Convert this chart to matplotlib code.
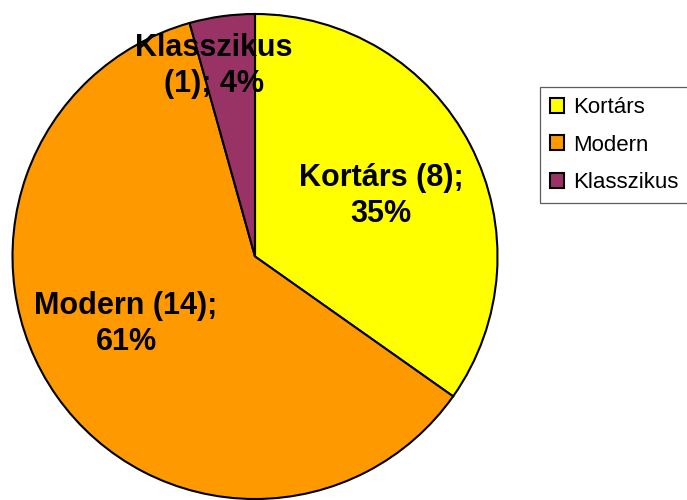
import matplotlib.pyplot as plt
from matplotlib.patches import Patch

# adatok
categories = ['Kortárs', 'Modern', 'Klasszikus']
counts = [8, 14, 1]
colors = ['#FFFF00', '#FF9900', '#993366']

total = sum(counts)
pcts = [round(c / total * 100) for c in counts]

fig = plt.figure(figsize=(6.87, 5.0), dpi=100)
ax = fig.add_axes([0, 0, 1, 1])

cx, cy, r = 255, 500 - 256.5, 242.5
wedges, _ = ax.pie(counts, colors=colors, startangle=90, counterclock=False,
                   center=(cx, cy), radius=r,
                   wedgeprops=dict(edgecolor='black', linewidth=1.5))
ax.set_xlim(0, 687)
ax.set_ylim(0, 500)
ax.set_aspect('equal')
ax.axis('off')

# címkék helye (pixel)
label_pos = [(381, 500 - 196), (126, 500 - 324), (214, 500 - 66)]
label_text = [f'Kortárs ({counts[0]});\n{pcts[0]}%',
              f'Modern ({counts[1]});\n{pcts[1]}%',
              f'Klasszikus\n({counts[2]}); {pcts[2]}%']
for (x, y), t in zip(label_pos, label_text):
    ax.text(x, y, t, ha='center', va='center', fontsize=22, fontweight='bold',
            family='Liberation Sans', linespacing=1.3)

handles = [Patch(facecolor=c, edgecolor='black', linewidth=1.5) for c in colors]
leg = fig.legend(handles, categories, loc='upper left', bbox_to_anchor=(540 / 687, 1 - 87 / 500),
                 prop={'family': 'Liberation Sans', 'size': 16}, frameon=True, fancybox=False,
                 handlelength=0.65, handleheight=0.65, handletextpad=0.4, labelspacing=0.75,
                 borderpad=0.45, borderaxespad=0)
leg.get_frame().set_edgecolor('#333333')
leg.get_frame().set_linewidth(0.9)

fig.savefig('out.png', dpi=100)
